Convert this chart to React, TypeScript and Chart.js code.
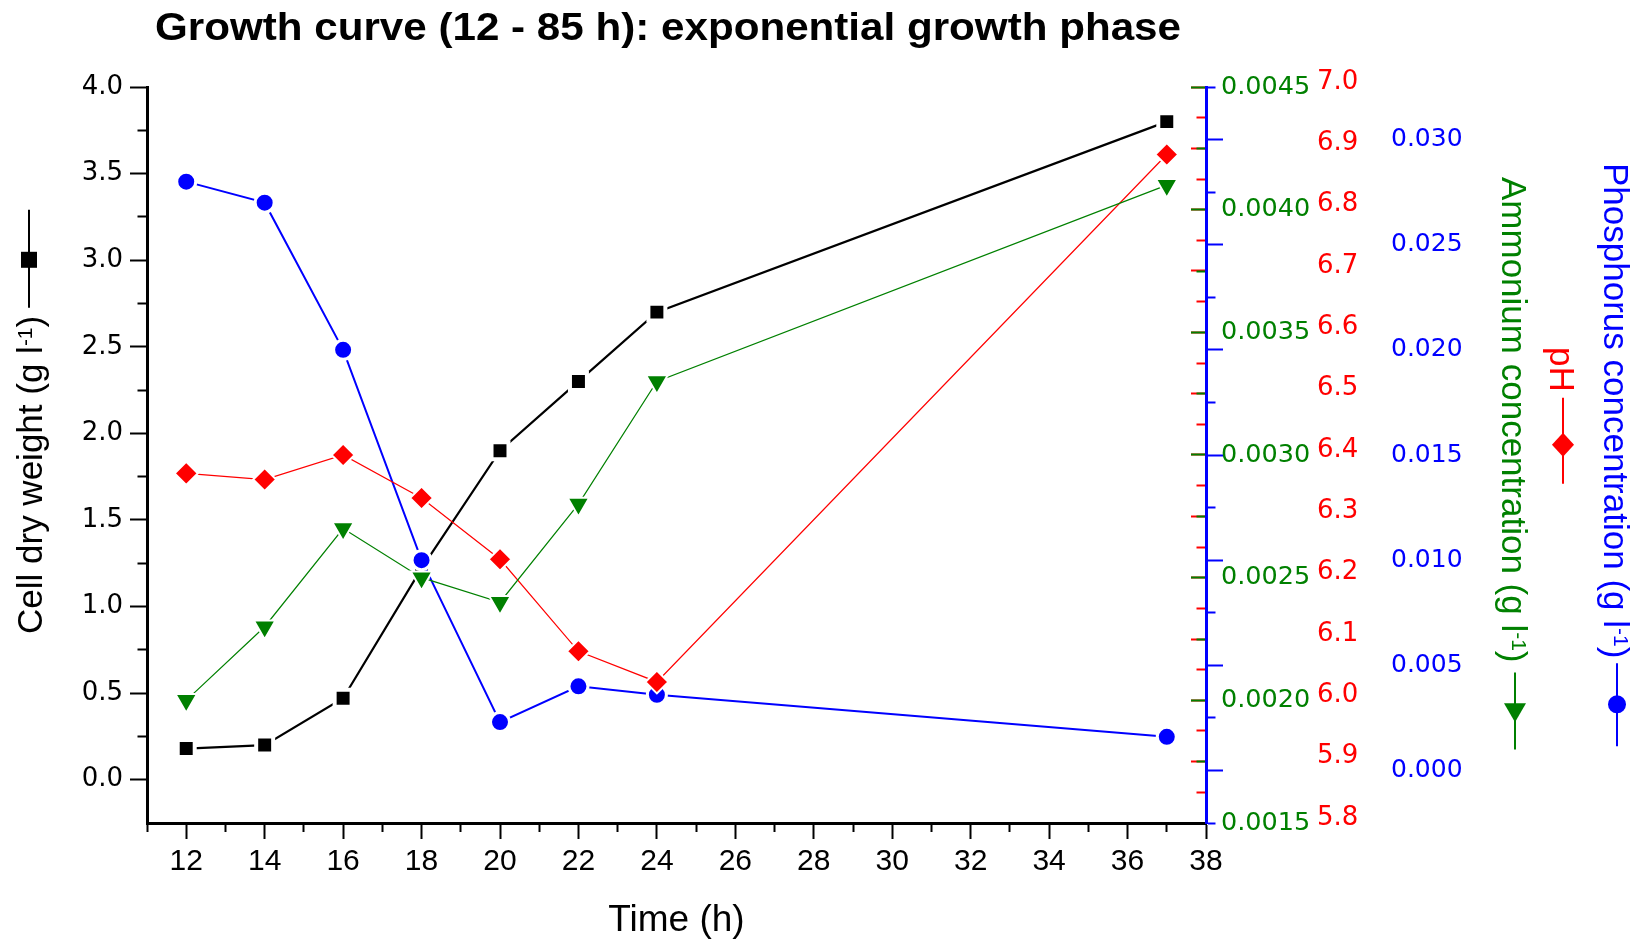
import React, { useEffect, useRef } from 'react';
import { Chart, registerables } from 'chart.js';

Chart.register(...registerables);

// ---- Data -------------------------------------------------------------
// Sampling times (h)
const timeH = [12, 14, 16, 18, 20, 22, 24, 37];
// Cell dry weight (g l-1)
const cellDryWeight = [0.18, 0.2, 0.47, 1.22, 1.9, 2.3, 2.7, 3.8];
// pH of the broth
const pHValues = [6.37, 6.36, 6.4, 6.33, 6.23, 6.08, 6.03, 6.89];
// Ammonium concentration (g l-1)
const ammonium = [0.002, 0.0023, 0.0027, 0.0025, 0.0024, 0.0028, 0.0033, 0.0041];
// Phosphorus concentration (g l-1)
const phosphorus = [0.028, 0.027, 0.02, 0.01, 0.0023, 0.004, 0.0036, 0.0016];

// ---- Axis ranges ------------------------------------------------------
const timeRange = [11, 38];
const cdwRange = [-0.25, 4.0];
const ammoniumRange = [0.0015, 0.0045];
const pHRange = [5.8, 7.0];
const phosphorusRange = [-0.0025, 0.0325];

// ---- Tick values (all marks) and labelled ticks -------------------------
const timeTicks = [11, 12, 13, 14, 15, 16, 17, 18, 19, 20, 21, 22, 23, 24, 25, 26, 27, 28, 29, 30, 31, 32, 33, 34, 35, 36, 37, 38];
const timeLabels = [12, 14, 16, 18, 20, 22, 24, 26, 28, 30, 32, 34, 36, 38];
const cdwTicks = [0, 0.25, 0.5, 0.75, 1.0, 1.25, 1.5, 1.75, 2.0, 2.25, 2.5, 2.75, 3.0, 3.25, 3.5, 3.75, 4.0];
const cdwLabels = [0, 0.5, 1.0, 1.5, 2.0, 2.5, 3.0, 3.5, 4.0];
const ammoniumTicks = [0.0015, 0.00175, 0.002, 0.00225, 0.0025, 0.00275, 0.003, 0.00325, 0.0035, 0.00375, 0.004, 0.00425, 0.0045];
const ammoniumLabels = [0.0015, 0.002, 0.0025, 0.003, 0.0035, 0.004, 0.0045];
const pHTicks = [5.8, 5.85, 5.9, 5.95, 6.0, 6.05, 6.1, 6.15, 6.2, 6.25, 6.3, 6.35, 6.4, 6.45, 6.5, 6.55, 6.6, 6.65, 6.7, 6.75, 6.8, 6.85, 6.9, 6.95, 7.0];
const pHLabels = [5.8, 5.9, 6.0, 6.1, 6.2, 6.3, 6.4, 6.5, 6.6, 6.7, 6.8, 6.9, 7.0];
const phosphorusTicks = [-0.0025, 0, 0.0025, 0.005, 0.0075, 0.01, 0.0125, 0.015, 0.0175, 0.02, 0.0225, 0.025, 0.0275, 0.03, 0.0325];
const phosphorusLabels = [0, 0.005, 0.01, 0.015, 0.02, 0.025, 0.03];

// ---- Text --------------------------------------------------------------
const chartTitle = 'Growth curve (12 - 85 h): exponential growth phase';
const timeTitle = 'Time (h)';

// ---- Styles ------------------------------------------------------------
const BLACK = '#000000';
const RED = '#ff0000';
const GREEN = '#008000';
const BLUE = '#0000ff';
const FONT_SANS = "'Liberation Sans', Arial, Helvetica, sans-serif";
const FONT_TICK = "'DejaVu Sans', Verdana, sans-serif";
const FONT_TIME_TICK = "'Liberation Sans Narrow', 'Liberation Sans', Arial, sans-serif";
const AXIS_TITLE_SIZE = 35;

const isIn = (v: number, list: number[]) => list.some((w) => Math.abs(w - v) < 1e-9);
const setTicks = (values: number[]) => (scale: any) => {
  scale.ticks = values.map((value) => ({ value }));
};

type MarkerKind = 'rect' | 'triangleDown' | 'diamond' | 'circle';

type TitleSpec = {
  x: number;
  y: number;
  angle: number;
  color: string;
  pre: string;
  sup?: string;
  post?: string;
  marker: MarkerKind;
  markerSize: number;
  gap: number;
  lineBefore: number;
  lineAfter: number;
};

function drawMarker(ctx: CanvasRenderingContext2D, kind: MarkerKind, x: number, y: number, s: number, color: string) {
  ctx.save();
  ctx.fillStyle = color;
  ctx.beginPath();
  if (kind === 'rect') {
    ctx.rect(x - s / 2, y - s / 2, s, s);
  } else if (kind === 'triangleDown') {
    const h = s * 0.866;
    ctx.moveTo(x - s / 2, y - h / 3);
    ctx.lineTo(x + s / 2, y - h / 3);
    ctx.lineTo(x, y + (2 * h) / 3);
    ctx.closePath();
  } else if (kind === 'diamond') {
    ctx.moveTo(x, y - s / 2);
    ctx.lineTo(x + s * 0.46, y);
    ctx.lineTo(x, y + s / 2);
    ctx.lineTo(x - s * 0.46, y);
    ctx.closePath();
  } else {
    ctx.arc(x, y, s / 2, 0, Math.PI * 2);
  }
  ctx.fill();
  ctx.restore();
}

// Rotated axis title with a superscript and a small line-marker-line key
function drawAxisTitle(ctx: CanvasRenderingContext2D, t: TitleSpec) {
  const size = AXIS_TITLE_SIZE;
  const supSize = Math.round(size * 0.6);
  const cap = 0.716;
  const base = (cap * size) / 2;
  ctx.save();
  ctx.translate(t.x, t.y);
  ctx.rotate(t.angle);
  ctx.fillStyle = t.color;
  ctx.textAlign = 'left';
  ctx.textBaseline = 'alphabetic';
  let u = 0;
  ctx.font = `${size}px ${FONT_SANS}`;
  ctx.fillText(t.pre, u, base);
  u += ctx.measureText(t.pre).width;
  if (t.sup) {
    ctx.font = `${supSize}px ${FONT_SANS}`;
    ctx.fillText(t.sup, u, base - cap * size + cap * supSize);
    u += ctx.measureText(t.sup).width;
  }
  if (t.post) {
    ctx.font = `${size}px ${FONT_SANS}`;
    ctx.fillText(t.post, u, base);
    u += ctx.measureText(t.post).width;
  }
  ctx.restore();

  const cos = Math.cos(t.angle);
  const sin = Math.sin(t.angle);
  const at = (d: number) => [t.x + cos * d, t.y + sin * d];
  const u0 = u + t.gap;
  const u1 = u0 + t.lineBefore + t.markerSize + t.lineAfter;
  const [ax, ay] = at(u0);
  const [bx, by] = at(u1);
  ctx.save();
  ctx.strokeStyle = t.color;
  ctx.lineWidth = 2;
  ctx.beginPath();
  ctx.moveTo(ax, ay);
  ctx.lineTo(bx, by);
  ctx.stroke();
  ctx.restore();
  const [mx, my] = at(u0 + t.lineBefore + t.markerSize / 2);
  drawMarker(ctx, t.marker, mx, my, t.markerSize, t.color);
}

const axisTitles: TitleSpec[] = [
  {
    x: 29, y: 634, angle: -Math.PI / 2, color: BLACK,
    pre: 'Cell dry weight (g l', sup: '-1', post: ')',
    marker: 'rect', markerSize: 16, gap: 8, lineBefore: 40, lineAfter: 42,
  },
  {
    x: 1515, y: 177, angle: Math.PI / 2, color: GREEN,
    pre: 'Ammonium concentration (g l', sup: '-1', post: ')',
    marker: 'triangleDown', markerSize: 22, gap: 10, lineBefore: 26, lineAfter: 29,
  },
  {
    x: 1563, y: 347, angle: Math.PI / 2, color: RED,
    pre: 'pH', marker: 'diamond', markerSize: 24, gap: 6, lineBefore: 35, lineAfter: 27,
  },
  {
    x: 1617, y: 163, angle: Math.PI / 2, color: BLUE,
    pre: 'Phosphorus concentration (g l', sup: '-1', post: ')',
    marker: 'circle', markerSize: 18, gap: 5, lineBefore: 32, lineAfter: 33,
  },
];

const titlesPlugin = {
  id: 'richTitles',
  afterDraw(chart: any) {
    const ctx: CanvasRenderingContext2D = chart.ctx;
    // main heading, bold and slightly widened
    ctx.save();
    ctx.font = `bold 38px ${FONT_SANS}`;
    ctx.fillStyle = BLACK;
    ctx.textAlign = 'left';
    ctx.textBaseline = 'alphabetic';
    const w = ctx.measureText(chartTitle).width;
    ctx.translate(155, 40);
    ctx.scale(1026 / w, 1);
    ctx.fillText(chartTitle, 0, 0);
    ctx.restore();
    axisTitles.forEach((t) => drawAxisTitle(ctx, t));
  },
};

const pts = (ys: number[]) => timeH.map((x, i) => ({ x, y: ys[i] }));

function buildConfig(): any {
  const tickFont = { family: FONT_TICK, size: 26 };
  return {
    type: 'line',
    data: {
      datasets: [
        {
          label: 'Ammonium',
          data: pts(ammonium),
          yAxisID: 'yNH4',
          borderColor: GREEN,
          borderWidth: 1.2,
          pointStyle: 'triangle',
          pointRotation: 180,
          pointRadius: 12.5,
          pointBackgroundColor: GREEN,
          pointBorderColor: '#ffffff',
          pointBorderWidth: 2,
          order: 0,
        },
        {
          label: 'pH',
          data: pts(pHValues),
          yAxisID: 'ypH',
          borderColor: RED,
          borderWidth: 1.2,
          pointStyle: 'rectRot',
          pointRadius: 11.5,
          pointBackgroundColor: RED,
          pointBorderColor: '#ffffff',
          pointBorderWidth: 2,
          order: 1,
        },
        {
          label: 'Phosphorus',
          data: pts(phosphorus),
          yAxisID: 'yP',
          borderColor: BLUE,
          borderWidth: 2,
          pointStyle: 'circle',
          pointRadius: 9.5,
          pointBackgroundColor: BLUE,
          pointBorderColor: '#ffffff',
          pointBorderWidth: 3,
          order: 2,
        },
        {
          label: 'Cell dry weight',
          data: pts(cellDryWeight),
          yAxisID: 'yCDW',
          borderColor: BLACK,
          borderWidth: 2.2,
          pointStyle: 'rect',
          pointRadius: 12,
          pointBackgroundColor: BLACK,
          pointBorderColor: '#ffffff',
          pointBorderWidth: 4,
          order: 3,
        },
      ],
    },
    options: {
      responsive: false,
      animation: false,
      events: [],
      layout: { padding: { left: 60, right: 0, top: 87, bottom: 0 } },
      plugins: { legend: { display: false }, tooltip: { enabled: false }, title: { display: false } },
      scales: {
        x: {
          type: 'linear',
          position: 'bottom',
          min: timeRange[0],
          max: timeRange[1],
          afterBuildTicks: setTicks(timeTicks),
          afterFit: (s: any) => { s.height = 116; },
          border: { display: true, color: BLACK, width: 3 },
          grid: {
            display: true,
            drawOnChartArea: false,
            drawTicks: true,
            tickLength: 16,
            tickWidth: 2,
            tickColor: BLACK,
            tickBorderDash: (c: any) => (isIn(c.tick.value, timeLabels) ? [] : [7, 100]),
          },
          ticks: {
            autoSkip: false,
            maxRotation: 0,
            padding: 5,
            color: BLACK,
            font: { family: FONT_TIME_TICK, size: 30 },
            callback: (v: number) => (isIn(v, timeLabels) ? String(v) : ''),
          },
          title: {
            display: true,
            text: timeTitle,
            color: BLACK,
            font: { family: FONT_SANS, size: 37 },
            padding: { top: 0, bottom: -4 },
          },
        },
        yCDW: {
          type: 'linear',
          position: 'left',
          min: cdwRange[0],
          max: cdwRange[1],
          afterBuildTicks: setTicks(cdwTicks),
          afterFit: (s: any) => { s.width = 87; },
          border: { display: true, color: BLACK, width: 3 },
          grid: {
            display: true,
            drawOnChartArea: false,
            drawTicks: true,
            tickLength: 17,
            tickWidth: 2,
            tickColor: BLACK,
            tickBorderDash: (c: any) => (isIn(c.tick.value, cdwLabels) ? [] : [0, 7.5, 100]),
          },
          ticks: {
            autoSkip: false,
            padding: 7,
            color: BLACK,
            font: tickFont,
            callback: (v: number) => (isIn(v, cdwLabels) ? v.toFixed(1) : ''),
          },
        },
        // blue axis line with its outward tick marks
        yPTicks: {
          type: 'linear',
          position: 'right',
          weight: 1,
          min: phosphorusRange[0],
          max: phosphorusRange[1],
          afterBuildTicks: setTicks(phosphorusTicks),
          afterFit: (s: any) => { s.width = 15; },
          border: { display: true, color: BLUE, width: 3 },
          grid: {
            display: true,
            drawOnChartArea: false,
            drawTicks: true,
            tickLength: 17,
            tickWidth: 2,
            tickColor: BLUE,
            tickBorderDash: (c: any) => (isIn(c.tick.value, phosphorusLabels) ? [] : [7.5, 100]),
          },
          ticks: { display: false, autoSkip: false },
        },
        yNH4: {
          type: 'linear',
          position: 'right',
          weight: 2,
          min: ammoniumRange[0],
          max: ammoniumRange[1],
          afterBuildTicks: setTicks(ammoniumLabels),
          afterFit: (s: any) => { s.width = 96; },
          border: { display: false },
          grid: { display: false, drawTicks: false, drawOnChartArea: false },
          ticks: {
            autoSkip: false,
            padding: 0,
            color: GREEN,
            font: { family: FONT_TICK, size: 25.5 },
            callback: (v: number) => v.toFixed(4),
          },
        },
        ypH: {
          type: 'linear',
          position: 'right',
          weight: 3,
          min: pHRange[0],
          max: pHRange[1],
          afterBuildTicks: setTicks(pHLabels),
          afterFit: (s: any) => { s.width = 74; },
          border: { display: false },
          grid: { display: false, drawTicks: false, drawOnChartArea: false },
          ticks: {
            autoSkip: false,
            padding: 0,
            labelOffset: -5,
            color: RED,
            font: tickFont,
            callback: (v: number) => v.toFixed(1),
          },
        },
        yP: {
          type: 'linear',
          position: 'right',
          weight: 4,
          min: phosphorusRange[0],
          max: phosphorusRange[1],
          afterBuildTicks: setTicks(phosphorusLabels),
          afterFit: (s: any) => { s.width = 259; },
          border: { display: false },
          grid: { display: false, drawTicks: false, drawOnChartArea: false },
          ticks: {
            autoSkip: false,
            padding: 0,
            color: BLUE,
            font: { family: FONT_TICK, size: 25 },
            callback: (v: number) => v.toFixed(3),
          },
        },
        // inward tick marks of the pH and ammonium scales on the blue axis line
        ypHTicks: {
          type: 'linear',
          position: { x: timeRange[1] },
          min: pHRange[0],
          max: pHRange[1],
          afterBuildTicks: setTicks(pHTicks),
          border: { display: false },
          grid: {
            display: true,
            z: -2,
            drawOnChartArea: false,
            drawTicks: true,
            tickLength: 15,
            tickWidth: 2,
            tickColor: RED,
            tickBorderDash: (c: any) => (isIn(c.tick.value, pHLabels) ? [] : [9.5, 100]),
          },
          ticks: { display: false, autoSkip: false },
        },
        yNH4Ticks: {
          type: 'linear',
          position: { x: timeRange[1] },
          min: ammoniumRange[0],
          max: ammoniumRange[1],
          afterBuildTicks: setTicks(ammoniumTicks),
          border: { display: false },
          grid: {
            display: true,
            z: -1,
            drawOnChartArea: false,
            drawTicks: true,
            tickLength: 15,
            tickWidth: 2,
            tickColor: GREEN,
            tickBorderDash: (c: any) => (isIn(c.tick.value, ammoniumLabels) ? [] : [9.5, 100]),
          },
          ticks: { display: false, autoSkip: false },
        },
      },
    },
    plugins: [titlesPlugin],
  };
}

export default function App() {
  const canvasRef = useRef<HTMLCanvasElement>(null);

  useEffect(() => {
    const canvas = canvasRef.current;
    if (!canvas) return;
    const chart = new Chart(canvas, buildConfig());
    return () => chart.destroy();
  }, []);

  return (
    <div style={{ position: 'fixed', left: 0, top: 0, width: 1650, height: 939, background: '#ffffff' }}>
      <canvas ref={canvasRef} width={1650} height={939} style={{ display: 'block', width: 1650, height: 939 }} />
    </div>
  );
}
